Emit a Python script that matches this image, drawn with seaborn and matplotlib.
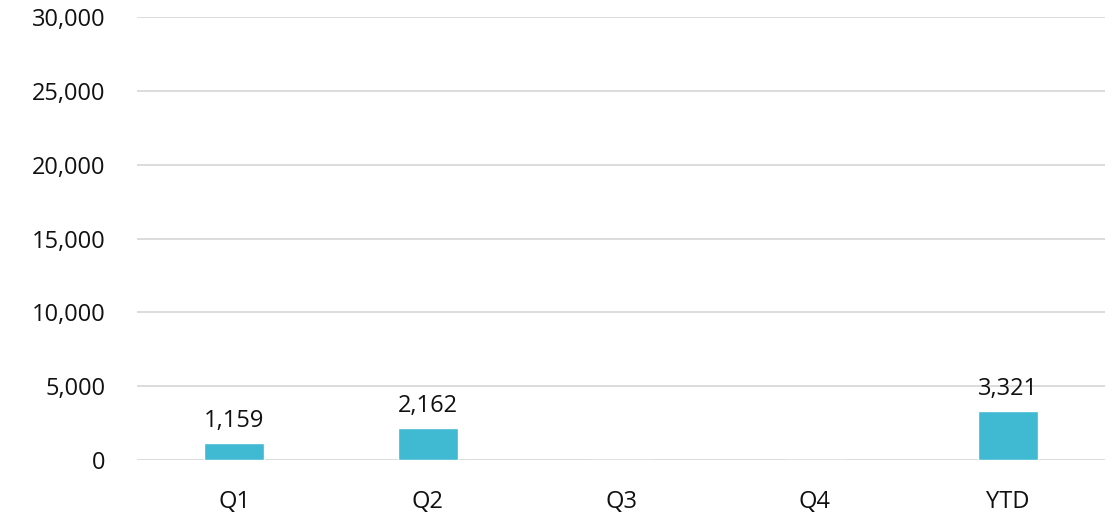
import matplotlib
matplotlib.use("Agg")
import matplotlib.pyplot as plt
import pandas as pd
import seaborn as sns
from matplotlib.ticker import FuncFormatter, MultipleLocator

categories = ["Q1", "Q2", "Q3", "Q4", "YTD"]
values = [1159, 2162, 0, 0, 3321]
labels = ["1,159", "2,162", "", "", "3,321"]

BAR_COLOR = "#40B9D3"
GRID_COLOR = "#D9D9D9"

sns.set_theme(style="white")
plt.rcParams["font.family"] = ["Open Sans", "DejaVu Sans"]

df = pd.DataFrame({"quarter": categories, "value": values})

fig = plt.figure(figsize=(11.14, 5.22), dpi=100)
ax = fig.add_axes([0.1234, 0.119, 0.8685, 0.848])

sns.barplot(data=df, x="quarter", y="value", color=BAR_COLOR, width=0.31,
            saturation=1, ax=ax, zorder=3)

ax.set_xlim(-0.5, len(categories) - 0.5)
ax.set_ylim(0, 30000)
ax.yaxis.set_major_locator(MultipleLocator(5000))
ax.yaxis.set_major_formatter(FuncFormatter(lambda v, _: f"{int(v):,}"))
ax.grid(axis="y", color=GRID_COLOR, linewidth=1.3, zorder=0)
ax.set_axisbelow(True)
for s in ax.spines.values():
    s.set_visible(False)
ax.tick_params(axis="both", length=0, labelsize=17, colors="#111111")
ax.tick_params(axis="y", pad=23)
ax.tick_params(axis="x", pad=22)
ax.set_xlabel("")
ax.set_ylabel("")

for i, (v, lab) in enumerate(zip(values, labels)):
    if lab:
        ax.annotate(lab, (i, v), xytext=(0, 7), textcoords="offset points",
                    ha="center", va="bottom", fontsize=17, color="#111111")

fig.savefig("out.png", dpi=100)
